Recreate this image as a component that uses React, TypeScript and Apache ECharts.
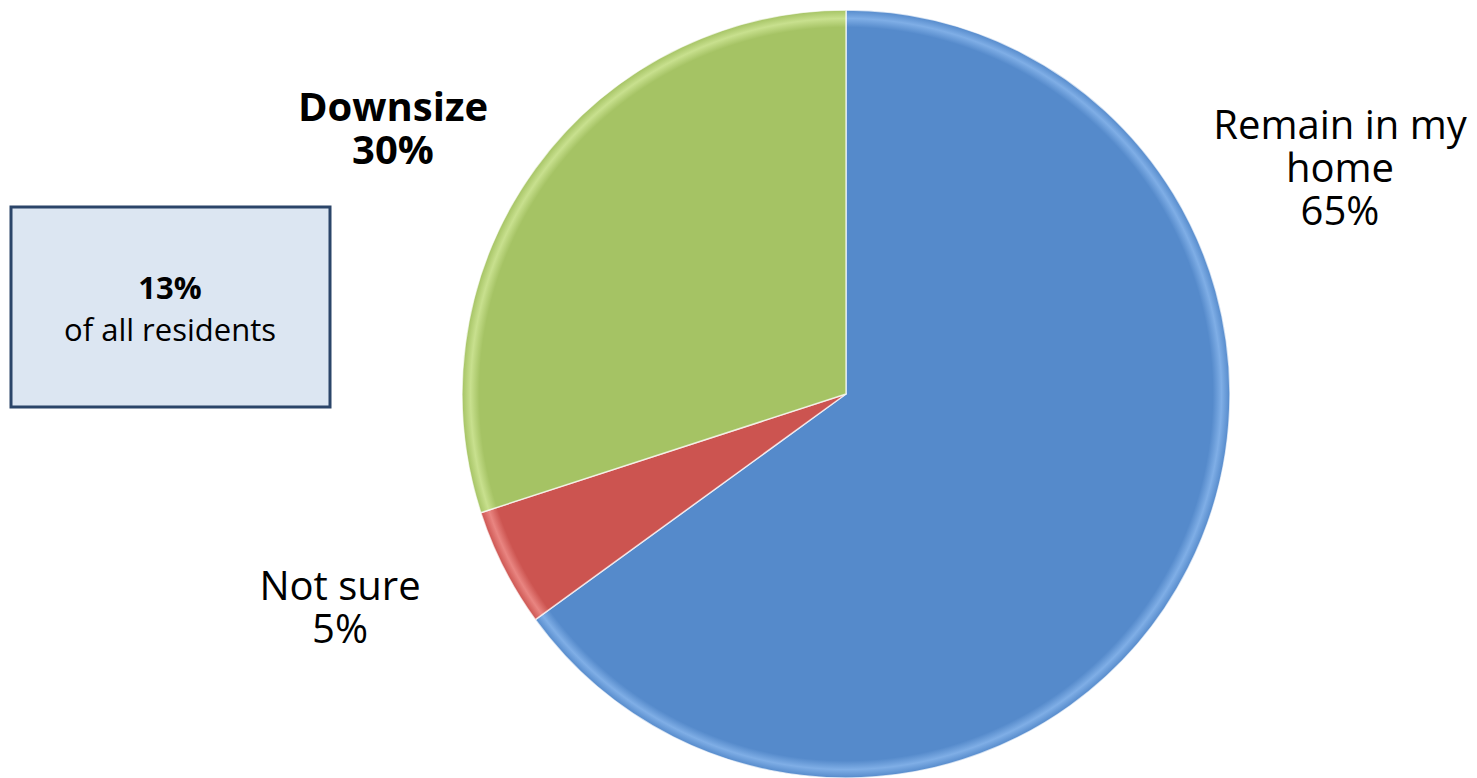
import React, { useEffect, useRef } from "react";
import * as echarts from "echarts";

const categories = ["Remain in my\nhome", "Not sure", "Downsize"];
const values = [65, 5, 30];
const colors = ["#558ACB", "#CC5450", "#A5C364"];
const rimColors = ["#7FAEE6", "#E98581", "#C8E08E"];
const boldFlags = [false, false, true];
const noteValue = "13%";
const noteText = "of all residents";

const labelPos: [number, number][] = [
  [1340, 166],
  [340, 606],
  [393, 127],
];

const CX = 846;
const CY = 394;
const R = 384;

export default function App() {
  const ref = useRef<HTMLDivElement>(null);
  useEffect(() => {
    const chart = echarts.init(ref.current!, undefined, { renderer: "svg" });
    const font = "'Open Sans', sans-serif";
    const fill = (i: number) =>
      new echarts.graphic.RadialGradient(
        CX,
        CY,
        R,
        [
          { offset: 0, color: colors[i] },
          { offset: 0.955, color: colors[i] },
          { offset: 0.978, color: rimColors[i] },
          { offset: 1, color: colors[i] },
        ],
        true
      );
    chart.setOption({
      animation: false,
      backgroundColor: "#ffffff",
      graphic: [
        {
          type: "rect",
          shape: { x: 11, y: 207, width: 319, height: 200 },
          style: { fill: "#DCE6F2", stroke: "#2B4569", lineWidth: 3 },
        },
        {
          type: "text",
          x: 170,
          y: 287,
          style: {
            text: noteValue,
            font: `bold 31px ${font}`,
            fill: "#000",
            align: "center",
            verticalAlign: "middle",
          },
        },
        {
          type: "text",
          x: 170,
          y: 329,
          style: {
            text: noteText,
            font: `31px ${font}`,
            fill: "#000",
            align: "center",
            verticalAlign: "middle",
          },
        },
      ],
      series: [
        {
          type: "pie",
          center: [CX, CY],
          radius: R,
          startAngle: 90,
          clockwise: true,
          avoidLabelOverlap: false,
          labelLine: { show: false },
          itemStyle: { borderColor: "rgba(255,255,255,0.7)", borderWidth: 1.5 },
          label: {
            show: true,
            position: "outside",
            fontFamily: font,
            fontSize: 40,
            lineHeight: 43,
            color: "#000",
            align: "center",
            formatter: (p: any) => `${p.name}\n${p.value}%`,
          },
          labelLayout: (p: any) => ({
            x: labelPos[p.dataIndex][0],
            y: labelPos[p.dataIndex][1],
            align: "center",
            verticalAlign: "middle",
          }),
          data: categories.map((c, i) => ({
            name: c,
            value: values[i],
            itemStyle: { color: fill(i) },
            label: { fontWeight: boldFlags[i] ? "bold" : "normal" },
          })),
        },
      ],
    });
    return () => chart.dispose();
  }, []);
  return (
    <div
      ref={ref}
      style={{ position: "fixed", left: 0, top: 0, width: 1477, height: 778 }}
    />
  );
}
